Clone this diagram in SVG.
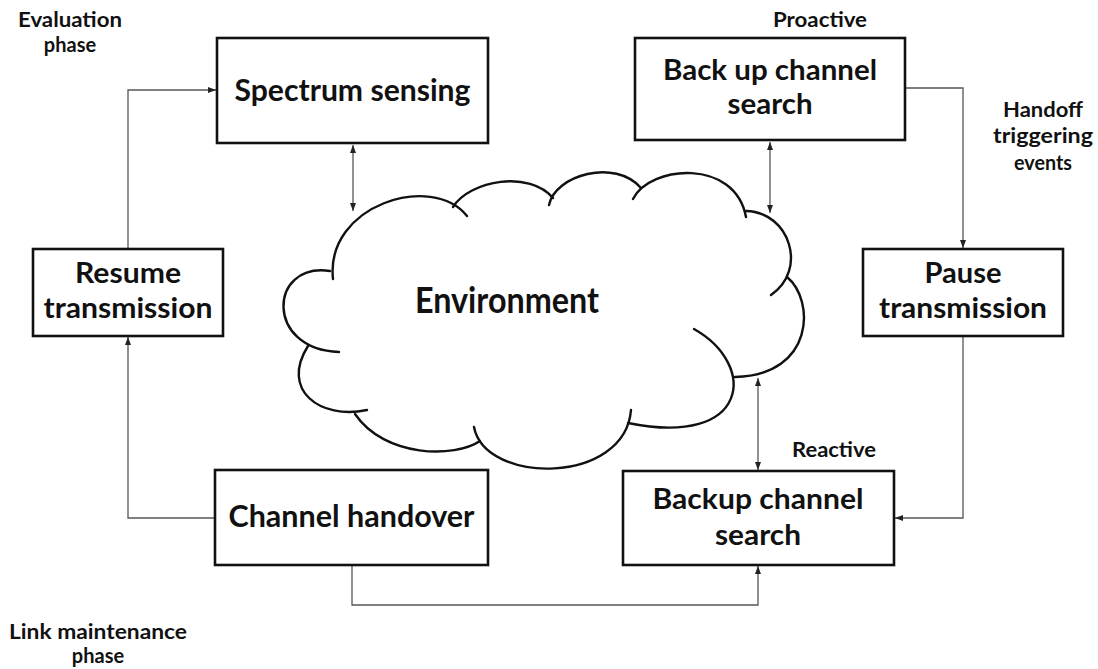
<svg xmlns="http://www.w3.org/2000/svg" width="1098" height="669" viewBox="0 0 1098 669">
  <style>
    .box { fill: #ffffff; stroke: #111111; stroke-width: 2.6; }
    .cloud { fill: none; stroke: #111111; stroke-width: 2.4; stroke-linecap: round; }
    .link { fill: none; stroke: #555555; stroke-width: 1.3; }
    .t { font-family: Lato, "Open Sans", "Liberation Sans", sans-serif; font-weight: bold; fill: #111111; text-anchor: middle; }
    .big { font-size: 31px; }
    .two { font-size: 28px; }
    .env { font-size: 36px; }
    .lbl { font-size: 20px; }
  </style>
  <defs>
    <marker id="arr" viewBox="0 0 8 6" refX="8" refY="3" markerWidth="8" markerHeight="6" markerUnits="userSpaceOnUse" orient="auto-start-reverse">
      <path d="M0,0 L8,3 L0,6 z" fill="#222222"/>
    </marker>
  </defs>

  <rect width="1098" height="669" fill="#ffffff"/>

  <!-- Cloud: each lobe stroked on its own so the overlapping ends show as small hooks -->
  <g id="environment">
    <path class="cloud" d="M333,279 C325,205 432,172 467,216"/>
    <path class="cloud" d="M453,207 C470,180 530,170 553,198"/>
    <path class="cloud" d="M549,205 C555,175 615,158 641,188"/>
    <path class="cloud" d="M633,199 C650,165 735,158 746,217"/>
    <path class="cloud" d="M746,211 C790,212 808,270 771,295"/>
    <path class="cloud" d="M787,277 C815,300 815,375 735,377"/>
    <path class="cloud" d="M694,329 C758,365 750,448 628,423"/>
    <path class="cloud" d="M631,410 C625,485 485,485 474,427"/>
    <path class="cloud" d="M480,441 C455,458 385,458 355,414"/>
    <path class="cloud" d="M367,410 C320,420 280,390 308,346"/>
    <path class="cloud" d="M339,352 C265,350 268,262 330,271"/>
    <text class="t env" x="507" y="313" textLength="184" lengthAdjust="spacingAndGlyphs">Environment</text>
  </g>

  <!-- Connectors -->
  <g id="connectors">
    <path class="link" d="M128,249 V90 H216" marker-end="url(#arr)"/>
    <path class="link" d="M353,145 V211" marker-start="url(#arr)" marker-end="url(#arr)"/>
    <path class="link" d="M770,142 V213" marker-start="url(#arr)" marker-end="url(#arr)"/>
    <path class="link" d="M906,88 H963 V248" marker-end="url(#arr)"/>
    <path class="link" d="M963,337 V518 H895" marker-end="url(#arr)"/>
    <path class="link" d="M758,378 V470" marker-start="url(#arr)" marker-end="url(#arr)"/>
    <path class="link" d="M214,518 H128 V337" marker-end="url(#arr)"/>
    <path class="link" d="M352,566 V605 H758 V566" marker-end="url(#arr)"/>
  </g>

  <!-- Nodes -->
  <g id="spectrum-sensing">
    <rect class="box" x="217" y="38" width="271" height="105"/>
    <text class="t big" x="352.5" y="101" textLength="236" lengthAdjust="spacingAndGlyphs">Spectrum sensing</text>
  </g>

  <g id="backup-proactive">
    <rect class="box" x="635" y="38" width="270" height="102"/>
    <text class="t two" x="770" y="80" textLength="214" lengthAdjust="spacingAndGlyphs">Back up channel</text>
    <text class="t two" x="770" y="114" textLength="85" lengthAdjust="spacingAndGlyphs">search</text>
  </g>

  <g id="resume-transmission">
    <rect class="box" x="33" y="249" width="190" height="87"/>
    <text class="t two" x="128" y="283" textLength="106" lengthAdjust="spacingAndGlyphs">Resume</text>
    <text class="t two" x="128" y="318" textLength="169" lengthAdjust="spacingAndGlyphs">transmission</text>
  </g>

  <g id="pause-transmission">
    <rect class="box" x="863" y="249" width="200" height="87"/>
    <text class="t two" x="963" y="283" textLength="77" lengthAdjust="spacingAndGlyphs">Pause</text>
    <text class="t two" x="963" y="318" textLength="168" lengthAdjust="spacingAndGlyphs">transmission</text>
  </g>

  <g id="channel-handover">
    <rect class="box" x="215" y="470" width="273" height="95"/>
    <text class="t big" x="351.5" y="527" textLength="246" lengthAdjust="spacingAndGlyphs">Channel handover</text>
  </g>

  <g id="backup-reactive">
    <rect class="box" x="623" y="471" width="271" height="94"/>
    <text class="t two" x="758" y="509" textLength="211" lengthAdjust="spacingAndGlyphs">Backup channel</text>
    <text class="t two" x="758" y="545" textLength="86" lengthAdjust="spacingAndGlyphs">search</text>
  </g>

  <!-- Free labels -->
  <g id="labels">
    <text class="t lbl" x="70" y="27" textLength="104" lengthAdjust="spacingAndGlyphs">Evaluation</text>
    <text class="t lbl" x="70" y="52">phase</text>
    <text class="t lbl" x="820" y="27" textLength="94" lengthAdjust="spacingAndGlyphs">Proactive</text>
    <text class="t lbl" x="1043" y="117" textLength="80" lengthAdjust="spacingAndGlyphs">Handoff</text>
    <text class="t lbl" x="1043" y="143" textLength="100" lengthAdjust="spacingAndGlyphs">triggering</text>
    <text class="t lbl" x="1043" y="170" textLength="58" lengthAdjust="spacingAndGlyphs">events</text>
    <text class="t lbl" x="834" y="457" textLength="84" lengthAdjust="spacingAndGlyphs">Reactive</text>
    <text class="t lbl" x="98" y="639" textLength="178" lengthAdjust="spacingAndGlyphs">Link maintenance</text>
    <text class="t lbl" x="98" y="663">phase</text>
  </g>
</svg>
